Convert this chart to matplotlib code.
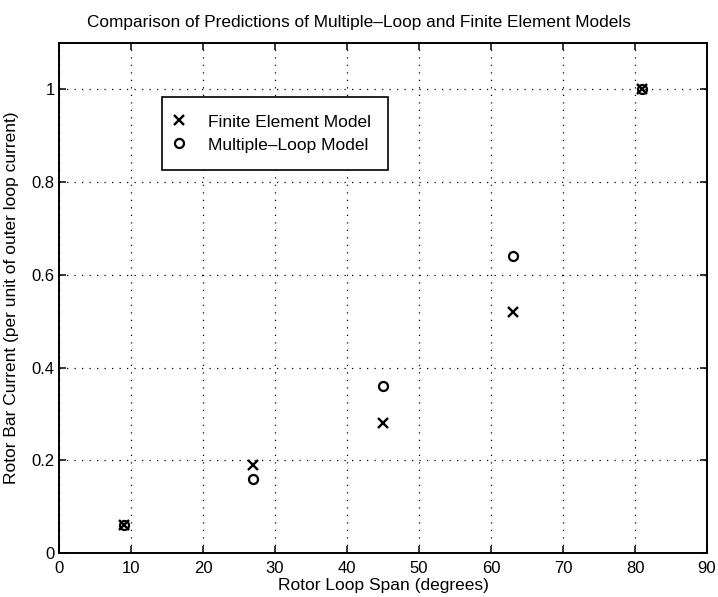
import matplotlib.pyplot as plt
import numpy as np

plt.rcParams['font.family'] = ['Liberation Sans', 'DejaVu Sans']

span = [9, 27, 45, 63, 81]
fe_current = [0.06, 0.19, 0.28, 0.52, 1.0]
ml_current = [0.06, 0.16, 0.36, 0.64, 1.0]

fig = plt.figure(figsize=(7.18, 5.97), dpi=100)
ax = fig.add_axes([0.0822, 0.0737, 0.9025, 0.8543])

ax.plot(span, fe_current, 'x', color='black', markersize=7, mew=1.7, label='Finite Element Model')
ax.plot(span, ml_current, 'o', color='black', markersize=6.5, mfc='none', mew=1.6, label='Multiple\u2013Loop Model')

ax.set_xlim(0, 90)
ax.set_ylim(0, 1.1)
ax.set_xticks(np.arange(0, 91, 10))
ax.set_yticks([0, 0.2, 0.4, 0.6, 0.8, 1.0])
ax.set_yticklabels(['0', '0.2', '0.4', '0.6', '0.8', '1'])
ax.grid(True, linestyle=(0, (1, 5)), color='black', linewidth=0.9)
ax.tick_params(direction='in', top=True, right=True, labelsize=12, length=5, width=1.1)
ax.tick_params(axis='x', pad=6)
ax.tick_params(axis='y', pad=3)
for s in ax.spines.values():
    s.set_linewidth(1.4)

ax.set_xlabel('Rotor Loop Span (degrees)', fontsize=12.5, labelpad=1)
ax.set_ylabel('Rotor Bar Current (per unit of outer loop current)', fontsize=12.5, labelpad=9)
fig.text(0.5, 0.962, 'Comparison of Predictions of Multiple\u2013Loop and Finite Element Models',
         fontsize=12.4, ha='center', va='center')

leg = ax.legend(loc='upper left', bbox_to_anchor=(0.159, 0.894), fontsize=12.5, frameon=True,
                fancybox=False, edgecolor='black', framealpha=1, handlelength=0.0,
                handletextpad=1.64, borderpad=1.0, labelspacing=0.45, borderaxespad=0)
leg.get_frame().set_linewidth(1.2)

fig.savefig('out.png', dpi=100)
